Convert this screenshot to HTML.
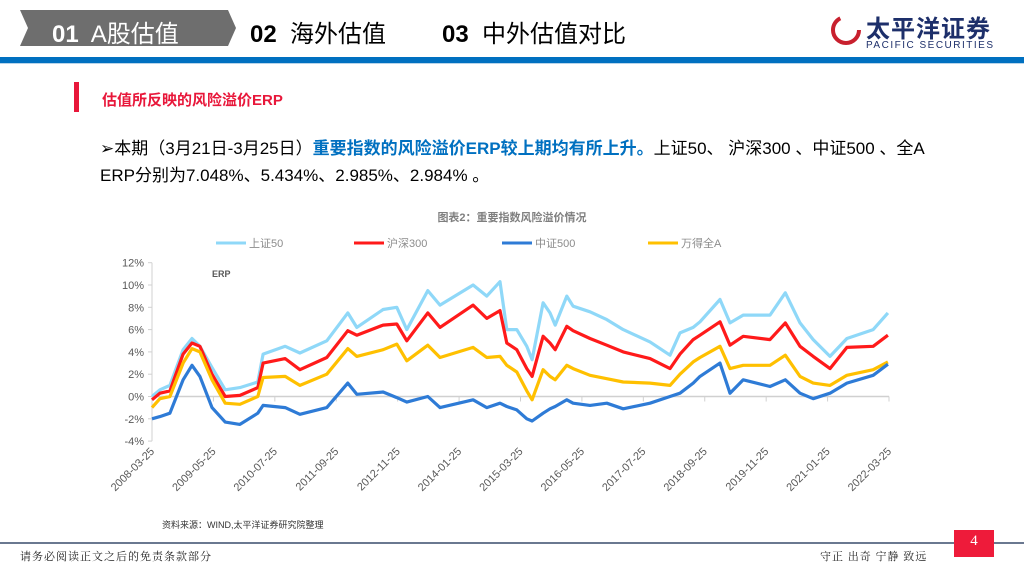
<!DOCTYPE html>
<html><head><meta charset="utf-8"><style>
body{margin:0;width:1024px;height:576px;overflow:hidden;background:#fff;font-family:"Liberation Sans","Noto Sans CJK SC",sans-serif;position:relative}
.a{position:absolute;white-space:nowrap}
</style></head><body>
<svg class="a" style="left:0;top:0" width="1024" height="576">
<polygon points="20,10 228,10 236,28 228,46 20,46 28,28" fill="#6e6e6e"/>
<rect x="0" y="57" width="1024" height="6" fill="#0070c0"/>
<rect x="0" y="63" width="1024" height="1" fill="#b7d4ea"/>
<rect x="74" y="82" width="5" height="30" fill="#e8173a"/>
<rect x="0" y="542" width="1024" height="2" fill="#6a7890"/>
<rect x="954" y="530" width="40" height="27" fill="#ee1b3a"/>
<circle cx="846" cy="30" r="13" fill="none" stroke="#c8202e" stroke-width="4" stroke-dasharray="55 30"/>
</svg>
<div class="a" style="left:52px;top:14px;font-size:24px;color:#fff"><b>01</b>&nbsp; A股估值</div>
<div class="a" style="left:250px;top:14px;font-size:24px;color:#000"><b>02</b>&nbsp; 海外估值</div>
<div class="a" style="left:442px;top:14px;font-size:24px;color:#000"><b>03</b>&nbsp; 中外估值对比</div>
<div class="a" style="left:866px;top:9px;font-size:24px;font-weight:bold;color:#1d2f6a;letter-spacing:1px">太平洋证券</div>
<div class="a" style="left:866px;top:40px;font-size:10px;color:#1d2f6a;letter-spacing:1.5px">PACIFIC SECURITIES</div>
<div class="a" style="left:102px;top:89px;font-size:15px;font-weight:bold;color:#e8173a">估值所反映的风险溢价ERP</div>
<div class="a" style="left:100px;top:135px;font-size:17px;color:#000;line-height:27px">➢本期（3月21日-3月25日）<b style="color:#0070c0">重要指数的风险溢价ERP较上期均有所上升。</b>上证50、 沪深300 、中证500 、全A<br>ERP分别为7.048%、5.434%、2.985%、2.984% 。</div>
<div class="a" style="left:20px;top:548px;font-size:11px;color:#222;font-family:'Liberation Serif','Noto Serif CJK SC',serif;letter-spacing:1px">请务必阅读正文之后的免责条款部分</div>
<div class="a" style="left:820px;top:548px;font-size:11px;color:#222;font-family:'Liberation Serif','Noto Serif CJK SC',serif;letter-spacing:1px">守正 出奇 宁静 致远</div>
<div class="a" style="left:954px;top:533px;width:40px;text-align:center;font-size:15px;color:#fff;font-family:'Liberation Serif',serif">4</div>
<svg id="chart" class="a" style="left:0;top:0" width="1024" height="576"></svg>
<script>
const years=[2008.23,2008.38,2008.57,2008.82,2008.99,2009.14,2009.37,2009.62,2009.90,2010.24,2010.34,2010.76,2011.04,2011.55,2011.95,2012.12,2012.62,2012.88,2013.07,2013.47,2013.70,2014.33,2014.59,2014.84,2014.97,2015.16,2015.35,2015.45,2015.66,2015.79,2015.89,2016.11,2016.23,2016.55,2016.87,2017.18,2017.69,2018.07,2018.26,2018.51,2018.64,2019.02,2019.21,2019.46,2019.97,2020.26,2020.54,2020.79,2021.11,2021.43,2021.93,2022.21];
const sz50=[0,0.6,1,4.2,5.2,4.5,2.6,0.6,0.8,1.3,3.8,4.5,3.9,5,7.5,6.2,7.8,8,6,9.5,8.2,10,9,10.3,6,6,4.5,3.3,8.4,7.5,6.4,9,8.1,7.6,6.9,6,4.9,3.7,5.7,6.2,6.7,8.7,6.6,7.3,7.3,9.3,6.6,5.1,3.6,5.2,6,7.5];
const hs300=[-0.3,0.3,0.5,3.8,4.8,4.5,2,0,0.1,0.8,3,3.4,2.4,3.5,5.9,5.5,6.4,6.5,5,7.5,6.2,8.2,7,7.7,4.8,4.2,2.5,1.8,5.4,4.8,4.2,6.3,5.9,5.2,4.6,4,3.4,2.5,3.8,5.1,5.5,6.7,4.6,5.4,5.1,6.6,4.5,3.6,2.5,4.4,4.5,5.5];
const zz500=[-2,-1.8,-1.5,1.5,2.8,1.8,-1,-2.3,-2.5,-1.5,-0.8,-1,-1.6,-1,1.2,0.2,0.4,-0.1,-0.5,0,-1,-0.3,-1,-0.6,-0.9,-1.2,-2,-2.2,-1.5,-1.1,-0.9,-0.3,-0.6,-0.8,-0.6,-1.1,-0.6,0,0.3,1.2,1.8,3,0.3,1.5,0.9,1.5,0.3,-0.2,0.3,1.2,1.9,2.9];
const allA=[-1,-0.2,0,3,4.3,4,1.5,-0.6,-0.7,0,1.7,1.8,1,2,4.3,3.6,4.2,4.7,3.2,4.6,3.5,4.4,3.5,3.6,2.8,2.2,0.5,-0.3,2.4,1.8,1.5,2.8,2.5,1.9,1.6,1.3,1.2,1,2,3.1,3.5,4.5,2.5,2.8,2.8,3.7,1.8,1.2,1,1.9,2.4,3.1];
const yTicks=[-4,-2,0,2,4,6,8,10,12];
const xLabels=["2008-03-25","2009-05-25","2010-07-25","2011-09-25","2012-11-25","2014-01-25","2015-03-25","2016-05-25","2017-07-25","2018-09-25","2019-11-25","2021-01-25","2022-03-25"];
const seriesNames=["上证50","沪深300","中证500","万得全A"];
const NS="http://www.w3.org/2000/svg",svg=document.getElementById("chart");
const X0=152,X1=889,T0=2008.23,T1=2022.23;
const xs=t=>X0+(t-T0)/(T1-T0)*(X1-X0);
const ys=v=>396.5-v*11.15;
function mk(tag,at,parent){const e=document.createElementNS(NS,tag);for(const k in at)e.setAttribute(k,at[k]);(parent||svg).appendChild(e);return e;}
const ya=mk("line",{x1:X0,y1:ys(12),x2:X0,y2:ys(-4),stroke:"#d0d0d0"});


yTicks.forEach(v=>{
 mk("line",{x1:X0-4,y1:ys(v),x2:X0,y2:ys(v),stroke:"#d0d0d0"});
 const t=mk("text",{x:X0-8,y:ys(v)+4,"text-anchor":"end","font-size":11,fill:"#595959","font-family":"Liberation Sans,sans-serif"});
 t.textContent=v+"%";
 
 
});
const xa=mk("line",{x1:X0,y1:ys(0),x2:X1,y2:ys(0),stroke:"#d0d0d0","stroke-width":1.5});


xLabels.forEach((s,i)=>{
 const x=X0+i*(X1-X0)/(xLabels.length-1);
 mk("line",{x1:x,y1:ys(0),x2:x,y2:ys(0)+5,stroke:"#d0d0d0"});
 const t=mk("text",{x:x+3,y:452,"text-anchor":"end","font-size":11,fill:"#595959",transform:`rotate(-45 ${x+3} 452)`,"font-family":"Liberation Sans,sans-serif"});
 t.textContent=s;
 
 
});
const erp=mk("text",{x:212,y:277,"font-size":9,"font-weight":"bold",fill:"#595959"});
erp.textContent="ERP";


const colors=["#8fd8f8","#ff1a1a","#2e7bd6","#ffc000"];
const data=[sz50,hs300,zz500,allA];
const sNames=["line-sz50","line-hs300","line-zz500","line-alla"];
[0,1,3,2].forEach(k=>{
 const p=mk("polyline",{points:years.map((t,i)=>xs(t).toFixed(1)+","+ys(data[k][i]).toFixed(1)).join(" "),fill:"none",stroke:colors[k],"stroke-width":3.2,"stroke-linejoin":"round"});
 
 
});
const title=mk("text",{x:512,y:221,"text-anchor":"middle","font-size":11,"font-weight":"bold",fill:"#7f7f7f"});
title.textContent="图表2：重要指数风险溢价情况";


const lx=[216,354,502,648];
seriesNames.forEach((n,i)=>{
 const g=mk("g",{});
 
 
 mk("line",{x1:lx[i],y1:243,x2:lx[i]+30,y2:243,stroke:colors[i],"stroke-width":3},g);
 const t=mk("text",{x:lx[i]+33,y:247,"font-size":11,fill:"#8c8c8c"},g);
 t.textContent=n;
});
const src=mk("text",{x:162,y:528,"font-size":9,fill:"#333"});
src.textContent="资料来源：WIND,太平洋证券研究院整理";


</script>
</body></html>
